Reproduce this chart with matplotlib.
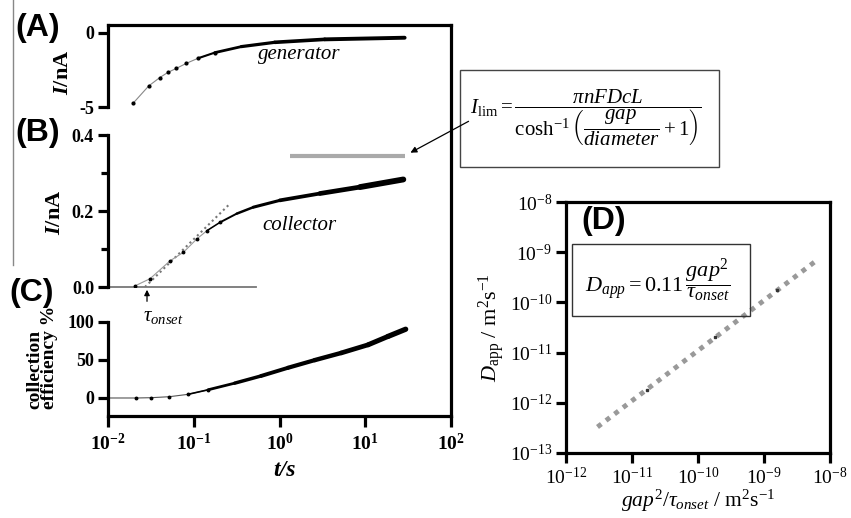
import numpy as np
import matplotlib
matplotlib.use("Agg")
import matplotlib.pyplot as plt
from matplotlib.patches import Rectangle, FancyArrowPatch
from matplotlib.lines import Line2D
from matplotlib.collections import LineCollection

plt.rcParams["font.family"] = "Liberation Serif"
plt.rcParams["mathtext.fontset"] = "custom"
plt.rcParams["mathtext.rm"] = "Liberation Serif"
plt.rcParams["mathtext.it"] = "Liberation Serif:italic"
plt.rcParams["mathtext.bf"] = "Liberation Serif:bold"
plt.rcParams["mathtext.bfit"] = "Liberation Serif:italic:bold"
plt.rcParams["axes.unicode_minus"] = False

# ---- data ----
# (A) generator current, nA
gen_t = [0.0196, 0.0298, 0.040, 0.050, 0.0627, 0.082, 0.112, 0.175, 0.359, 0.88, 3.37, 28.8]
gen_i = [-4.75, -3.58, -3.02, -2.66, -2.39, -2.05, -1.71, -1.33, -0.92, -0.63, -0.43, -0.32]

# (B) collector current, nA
coll_t = [0.0207, 0.031, 0.053, 0.0755, 0.108, 0.142, 0.202, 0.317, 0.495, 1.01, 2.96, 8.7, 27.8]
coll_i = [0.003, 0.022, 0.069, 0.091, 0.126, 0.148, 0.170, 0.193, 0.210, 0.228, 0.246, 0.263, 0.283]
tan_t = [0.027, 0.253]          # onset tangent
tan_i = [0.0, 0.215]
base_t = [0.01, 0.53]           # zero baseline
base_i = [0.0, 0.0]
ilim_t = [1.32, 29.0]           # limiting current
ilim_i = [0.346, 0.346]
tau_onset = 0.0285

# (C) collection efficiency, %
eff_t = [0.01, 0.0214, 0.032, 0.052, 0.0857, 0.147, 0.30, 0.61, 1.26, 2.57, 5.25, 10.8, 18.4, 29.6]
eff = [0.0, 0.0, 0.4, 1.7, 4.8, 10.8, 19.5, 29.0, 39.8, 49.8, 59.3, 70.0, 81.0, 90.5]

# (D) apparent diffusion coefficient
d_line_x = [3.0e-12, 6.3e-9]
d_line_y = [3.3e-13, 6.9e-10]
d_pts_x = [1.7e-11, 1.8e-10, 1.6e-9]
d_pts_y = [1.8e-12, 2.0e-11, 1.8e-10]

x_ticks = [1e-2, 1e-1, 1e0, 1e1, 1e2]
x_ticklabels = [r"$\mathbf{10^{-2}}$", r"$\mathbf{10^{-1}}$", r"$\mathbf{10^{0}}$",
                r"$\mathbf{10^{1}}$", r"$\mathbf{10^{2}}$"]
d_ticks = [1e-12, 1e-11, 1e-10, 1e-9, 1e-8]
d_xticklabels = [r"$10^{-12}$", r"$10^{-11}$", r"$10^{-10}$", r"$10^{-9}$", r"$10^{-8}$"]
d_yticks = [1e-13, 1e-12, 1e-11, 1e-10, 1e-9, 1e-8]
d_yticklabels = [r"$10^{-13}$", r"$10^{-12}$", r"$10^{-11}$", r"$10^{-10}$", r"$10^{-9}$", r"$10^{-8}$"]

W, H = 851, 518
fig = plt.figure(figsize=(W / 100, H / 100), dpi=100)


def box(l, t, r, b):
    return [l / W, 1 - b / H, (r - l) / W, (b - t) / H]


def fx(px):
    return px / W


def fy(py):
    return 1 - py / H


LW = 2.3

# outer frame of left panel
frame = fig.add_axes(box(108, 25, 451, 416))
frame.set_xscale("log")
frame.set_xlim(1e-2, 1e2)
frame.patch.set_alpha(0)
frame.spines["left"].set_visible(False)
for s in ["top", "right", "bottom"]:
    frame.spines[s].set_linewidth(LW)
frame.set_yticks([])
frame.set_xticks(x_ticks)
frame.set_xticklabels(x_ticklabels)
frame.xaxis.set_minor_locator(matplotlib.ticker.NullLocator())
frame.tick_params(axis="x", direction="out", length=8, width=LW, labelsize=14, pad=4)


def sub_axes(rect, ylim):
    ax = fig.add_axes(rect)
    ax.set_xscale("log")
    ax.set_xlim(1e-2, 1e2)
    ax.set_ylim(*ylim)
    ax.patch.set_visible(False)
    for s in ["top", "right", "bottom"]:
        ax.spines[s].set_visible(False)
    ax.spines["left"].set_linewidth(LW)
    ax.tick_params(axis="x", which="both", bottom=False, labelbottom=False)
    ax.tick_params(axis="y", which="major", direction="out", length=7, width=LW, labelsize=13, pad=3)
    ax.tick_params(axis="y", which="minor", direction="out", length=5, width=LW)
    return ax


def growing_line(ax, t, y, widths):
    segs = [[(t[i], y[i]), (t[i + 1], y[i + 1])] for i in range(len(t) - 1)]
    lc = LineCollection(segs, colors="black", linewidths=widths, capstyle="round")
    ax.add_collection(lc)


axA = sub_axes(box(108, 25, 451, 107), (-5, 0.54))
axA.set_yticks([0, -5])
axA.set_yticklabels(["0", "-5"], fontweight="bold")
axA.plot(gen_t, gen_i, color="#888888", lw=0.8)
axA.plot(gen_t[:8], gen_i[:8], "o", color="black", ms=2)
growing_line(axA, gen_t[6:], gen_i[6:], [1.5, 2.0, 2.3, 2.6, 2.8])

axB = sub_axes(box(108, 135, 451, 287), (0, 0.4))
axB.set_yticks([0, 0.2, 0.4])
axB.set_yticklabels(["0.0", "0.2", "0.4"], fontweight="bold")
axB.set_yticks([0.1, 0.3], minor=True)
axB.plot(base_t, base_i, color="#777777", lw=1.3, clip_on=False)
axB.plot(tan_t, tan_i, color="#777777", lw=1.5, ls=(0, (1, 1.5)))
axB.plot(coll_t[:7], coll_i[:7], color="#999999", lw=0.8)
axB.plot(coll_t[:7], coll_i[:7], "o", color="black", ms=1.8)
growing_line(axB, coll_t[5:], coll_i[5:], [1.1, 1.4, 1.8, 2.2, 2.7, 3.4, 4.2])
axB.plot(ilim_t, ilim_i, color="#aaaaaa", lw=3, solid_capstyle="butt")
axB.annotate("", xy=(tau_onset, 0), xytext=(tau_onset, -0.045),
             arrowprops=dict(arrowstyle="-|>", color="black", lw=0.9, mutation_scale=8),
             annotation_clip=False)

axC = sub_axes(box(108, 322, 451, 416), (-23.7, 100))
axC.set_yticks([0, 50, 100])
axC.set_yticklabels(["0", "50", "100"], fontweight="bold")
axC.plot(eff_t[:6], eff[:6], color="#555555", lw=0.8)
axC.plot(eff_t[1:6], eff[1:6], "o", color="black", ms=1.8)
growing_line(axC, eff_t[4:], eff[4:], [1.2, 2.0, 2.5, 2.8, 3.0, 3.2, 3.4, 3.6, 3.8])

# labels of left panel
sans = "Liberation Sans"
for lab, (px, py) in zip(["(A)", "(B)", "(C)"], [(38, 28), (38, 133), (32, 293)]):
    fig.text(fx(px), fy(py), lab, family=sans, weight="bold", fontsize=23, ha="center", va="center")
fig.text(fx(63), fy(72), r"$\mathbfit{I}$/nA", weight="bold", fontsize=16, rotation=90, ha="center", va="center")
fig.text(fx(55), fy(212), r"$\mathbfit{I}$/nA", weight="bold", fontsize=16, rotation=90, ha="center", va="center")
fig.text(fx(42), fy(357), "collection\nefficiency %", weight="bold", fontsize=14, rotation=90,
         ha="center", va="center", linespacing=0.85, multialignment="left")
fig.text(fx(285), fy(470), "t/s", weight="bold", style="italic", fontsize=17, ha="center", va="center")
fig.text(fx(299), fy(55), "generator", style="italic", fontsize=15, ha="center", va="center")
fig.text(fx(299), fy(225), "collector", style="italic", fontsize=15, ha="center", va="center")
fig.text(fx(163), fy(316), r"$\tau_{onset}$", fontsize=15, ha="center", va="center")

# thin grey rule at far left
fig.add_artist(Line2D([fx(13), fx(13)], [fy(0), fy(265)], transform=fig.transFigure, color="#888888", lw=1))

# equation box for limiting current
fig.add_artist(Rectangle((fx(460), fy(167)), fx(719) - fx(460), fy(70) - fy(167),
                         transform=fig.transFigure, fill=False, ec="#444444", lw=1))
fig.text(fx(586), fy(118),
         r"$I_{\rm lim} = \dfrac{\pi nFDcL}{\cosh^{-1}\left(\dfrac{gap}{diameter}+1\right)}$",
         fontsize=15, ha="center", va="center")
fig.add_artist(FancyArrowPatch((fx(471), fy(120)), (fx(408), fy(154)), transform=fig.transFigure,
                               arrowstyle="-|>", mutation_scale=9, color="black", lw=0.9))

# (D) panel
axD = fig.add_axes(box(566, 202, 830, 453))
axD.set_xscale("log")
axD.set_yscale("log")
axD.set_xlim(1e-12, 1e-8)
axD.set_ylim(1e-13, 1e-8)
for s in axD.spines.values():
    s.set_linewidth(LW)
axD.set_xticks(d_ticks)
axD.set_xticklabels(d_xticklabels)
axD.set_yticks(d_yticks)
axD.set_yticklabels(d_yticklabels)
axD.xaxis.set_minor_locator(matplotlib.ticker.NullLocator())
axD.yaxis.set_minor_locator(matplotlib.ticker.NullLocator())
axD.tick_params(direction="out", length=7, width=LW, labelsize=14, pad=3)
axD.plot(d_line_x, d_line_y, color="#999999", lw=3.5, ls=(0, (1, 1.2)))
axD.plot(d_pts_x, d_pts_y, "s", color="#333333", ms=2)
axD.set_xlabel(r"$gap^2/\tau_{onset}$ / m$^2$s$^{-1}$", fontsize=15.5, labelpad=0)
axD.set_ylabel(r"$D_{\rm app}$ / m$^2$s$^{-1}$", fontsize=16, labelpad=2)

fig.text(fx(604), fy(221), "(D)", family=sans, weight="bold", fontsize=23, ha="center", va="center")
fig.add_artist(Rectangle((fx(572), fy(316)), fx(750) - fx(572), fy(244) - fy(316),
                         transform=fig.transFigure, fill=False, ec="#333333", lw=1))
fig.text(fx(658), fy(281), r"$D_{app} = 0.11\,\dfrac{gap^2}{\tau_{onset}}$",
         fontsize=16, ha="center", va="center")

fig.savefig("out.png", dpi=100)
